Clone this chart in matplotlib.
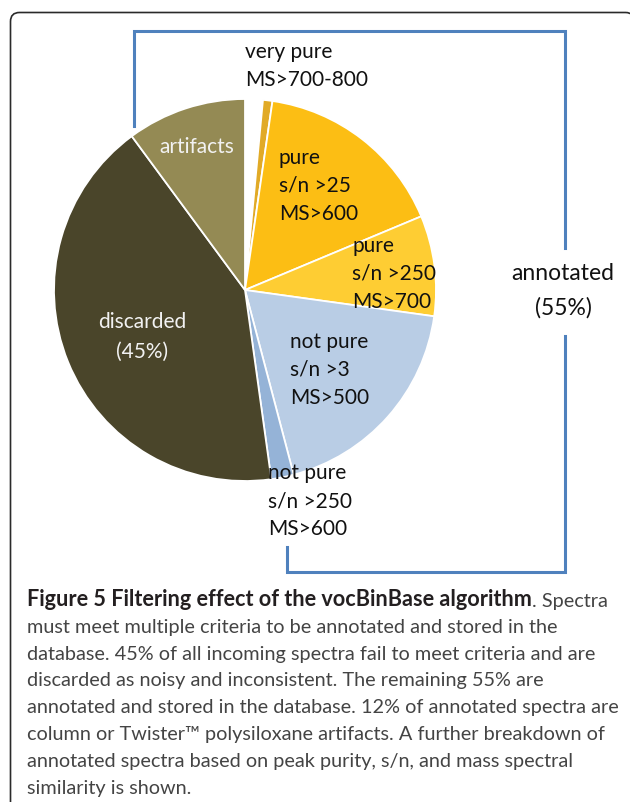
import matplotlib
matplotlib.use("Agg")
import matplotlib.pyplot as plt
from matplotlib.patches import FancyBboxPatch
from matplotlib.lines import Line2D

# slice data, clockwise from 12 o'clock (percent of all spectra)
slice_names = ["very pure", "very pure (sliver)", "pure s/n>25", "pure s/n>250",
               "not pure s/n>3", "not pure s/n>250", "discarded", "artifacts"]
slice_values = [1.5, 0.8, 16.4, 8.5, 18.7, 1.9, 42.1, 10.1]
slice_colors = ["#FFFFFF", "#E1AA26", "#FCBE14", "#FECD33",
                "#B9CDE5", "#95B3D7", "#4A452A", "#948A54"]

label_texts = [
    "very pure\nMS>700-800",
    "pure\ns/n >25\nMS>600",
    "pure\ns/n >250\nMS>700",
    "not pure\ns/n >3\nMS>500",
    "not pure\ns/n >250\nMS>600",
]
caption_bold = "Figure 5 Filtering effect of the vocBinBase algorithm"
caption_lines = [
    ". Spectra",
    "must meet multiple criteria to be annotated and stored in the",
    "database. 45% of all incoming spectra fail to meet criteria and are",
    "discarded as noisy and inconsistent. The remaining 55% are",
    "annotated and stored in the database. 12% of annotated spectra are",
    "column or Twister\u2122 polysiloxane artifacts. A further breakdown of",
    "annotated spectra based on peak purity, s/n, and mass spectral",
    "similarity is shown.",
]

W, H = 630, 802
fig = plt.figure(figsize=(W / 100, H / 100), dpi=100)
ax = fig.add_axes([0, 0, 1, 1])

def Y(y):
    # image pixel row -> axis y
    return H - y

FONT = "Lato"

# outer rounded frame (runs off the right and bottom edges)
frame = FancyBboxPatch((10.5, -30), 624, Y(12.5) + 30,
                       boxstyle="round,pad=0,rounding_size=9",
                       facecolor="white", edgecolor="#2a2a2a", linewidth=1.2)
ax.add_patch(frame)

# pie
ax.pie(slice_values, colors=slice_colors, startangle=90, counterclock=False,
       center=(245, Y(290)), radius=191, frame=True,
       wedgeprops=dict(edgecolor="white", linewidth=1.3))
ax.set_xlim(0, W)
ax.set_ylim(0, H)
ax.axis("off")

def lines_at(text, x, y0, step, **kw):
    for i, ln in enumerate(text.split("\n")):
        ax.text(x, Y(y0 + i * step), ln, va="center", **kw)

lab_kw = dict(fontsize=15, family=FONT, color="#111111", ha="left")
lines_at(label_texts[0], 245, 52, 28, **lab_kw)
lines_at(label_texts[1], 279, 158, 28, **lab_kw)
lines_at(label_texts[2], 352, 246, 28, **lab_kw)
lines_at(label_texts[3], 290, 342, 28, **lab_kw)
lines_at(label_texts[4], 268, 473, 28, **lab_kw)
lines_at("artifacts", 197, 147, 28, fontsize=15, family=FONT,
         color="#F2F2F2", ha="center")
lines_at("discarded\n(45%)", 142, 322, 30, fontsize=15, family=FONT,
         color="#F2F2F2", ha="center")
lines_at("annotated\n(55%)", 563, 273, 35, fontsize=16.5, family=FONT,
         color="#111111", ha="center")

# blue bracket around annotated slices
blue = "#4F81BD"
ax.add_line(Line2D([134, 134, 565, 565], [Y(126), Y(31), Y(31), Y(248)],
                   color=blue, linewidth=2.2, solid_joinstyle="miter"))
ax.add_line(Line2D([565, 565, 287, 287], [Y(336), Y(572), Y(572), Y(547)],
                   color=blue, linewidth=2.2, solid_joinstyle="miter"))

# caption
t1 = ax.text(27, Y(606), caption_bold, fontsize=15.6, family=FONT,
             fontweight="bold", color="#231F20", va="baseline")
ax.annotate(caption_lines[0], xy=(1, 0), xycoords=t1, va="bottom",
            fontsize=14.3, family=FONT, color="#444444")
for i, ln in enumerate(caption_lines[1:], start=1):
    ax.text(27, Y(606 + i * 26.8), ln, fontsize=14.3, family=FONT,
            color="#444444", va="baseline")

fig.savefig("out.png", dpi=100, facecolor="white")
